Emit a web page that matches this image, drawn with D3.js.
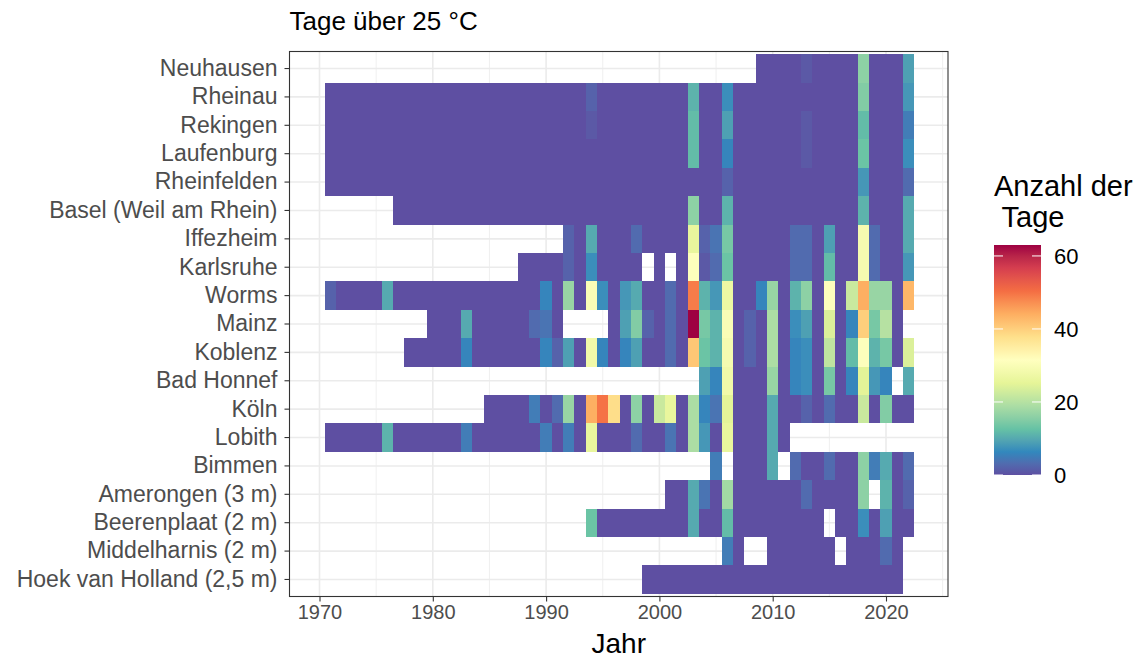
<!DOCTYPE html>
<html>
<head>
<meta charset="utf-8">
<script src="https://cdn.jsdelivr.net/npm/d3@7"></script>
<style>
  body { margin: 0; background: #fff; }
  text { font-family: "Liberation Sans", Arial, sans-serif; }
</style>
</head>
<body>
<script>
// station names, top to bottom
const stations = ["Neuhausen", "Rheinau", "Rekingen", "Laufenburg", "Rheinfelden",
  "Basel (Weil am Rhein)", "Iffezheim", "Karlsruhe", "Worms", "Mainz", "Koblenz",
  "Bad Honnef", "Köln", "Lobith", "Bimmen", "Amerongen (3 m)", "Beerenplaat (2 m)",
  "Middelharnis (2 m)", "Hoek van Holland (2,5 m)"];

// first year with data for each station (same order)
const firstYear = [2009, 1971, 1971, 1971, 1971, 1977, 1992, 1988, 1971, 1980, 1978,
  2004, 1985, 1971, 2005, 2001, 1994, 2006, 1999];

// days over 25 °C per year, starting at firstYear, null = no data
const neuhausen = [0, 0, 0, 0, 1, 0, 0, 0, 0, 16, 0, 0, 0, 9];
const rheinau = [0, 0, 0, 0, 0, 0, 0, 0, 0, 0, 0, 0, 0, 0, 0, 0, 0, 0, 0, 0, 0, 0, 0, 2,
  0, 0, 0, 0, 0, 0, 0, 0, 11, 0, 0, 7, 0, 0, 0, 0, 0, 0, 0, 0, 0, 0, 0, 15, 0, 0, 0, 8];
const rekingen = [0, 0, 0, 0, 0, 0, 0, 0, 0, 0, 0, 0, 0, 0, 0, 0, 0, 0, 0, 0, 0, 0, 0, 1,
  0, 0, 0, 0, 0, 0, 0, 0, 12, 0, 0, 9, 0, 0, 0, 0, 0, 0, 1, 0, 0, 0, 0, 12, 0, 0, 0, 5];
const laufenburg = [0, 0, 0, 0, 0, 0, 0, 0, 0, 0, 0, 0, 0, 0, 0, 0, 0, 0, 0, 0, 0, 0, 0, 0,
  0, 0, 0, 0, 0, 0, 0, 0, 12, 0, 0, 6, 0, 0, 0, 0, 0, 0, 1, 0, 0, 0, 0, 13, 0, 0, 0, 7];
const rheinfelden = [0, 0, 0, 0, 0, 0, 0, 0, 0, 0, 0, 0, 0, 0, 0, 0, 0, 0, 0, 0, 0, 0, 0, 0,
  0, 0, 0, 0, 0, 0, 0, 0, 0, 0, 0, 2, 0, 0, 0, 0, 0, 0, 0, 0, 0, 0, 0, 8, 0, 0, 0, 3];
const basel = [0, 0, 0, 0, 0, 0, 0, 0, 0, 0, 0, 0, 0, 0, 0, 0, 0, 0,
  0, 0, 0, 0, 0, 0, 0, 0, 16, 0, 0, 11, 0, 0, 0, 0, 0, 0, 0, 0, 0, 0, 0, 11, 0, 0, 0, 10];
const iffezheim = [2, 0, 10, 0, 0, 0, 3, 0, 0, 0, 0, 26, 2, 4, 14, 0, 0, 0, 0, 0,
  3, 3, 0, 9, 0, 0, 29, 3, 0, 0, 10];
const karlsruhe = [0, 0, 0, 0, 2, 0, 7, 0, 0, 0, 0, null, 0, null, 0, 31, 1, 3, 13, 0, 0, 0, 0, 0,
  3, 3, 0, 12, 0, 0, 29, 3, 0, 0, 8];
const worms = [2, 0, 0, 0, 0, 10, 0, 0, 0, 0, 0, 0, 0, 0, 0, 0, 0, 0, 0, 6,
  0, 17, 0, 30, 7, 0, 8, 10, 0, 0, 3, 0, 49, 11, 8, 27, 0, 0, 6, 17,
  0, 11, 16, 0, 31, 0, 22, 44, 17, 17, 0, 43];
const mainz = [0, 0, 0, 10, 0, 0, 0, 0, 0, 3, 4, 0, null, null, null, null, 0, 9, 15, 2,
  0, 3, 0, 63, 14, 11, 30, 0, 2, 0, 19, 0, 7, 9, 0, 24, 0, 6, 40, 14, 20, 0, null];
const koblenz = [0, 0, 0, 0, 0, 6, 0, 0, 0, 0, 0, 0, 6, 2, 9, 0, 28, 6, 0, 6, 9, 0, 0, 3, 0,
  41, 13, 11, 29, 0, 2, 0, 19, 0, 6, 7, 0, 21, 0, 12, 31, 11, 14, 0, 24];
const badHonnef = [9, 6, 28, 0, 0, 0, 17, 0, 6, 7, 0, 14, 0, 6, 25, 8, 6, null, 10];
const koeln = [0, 0, 0, 0, 5, 0, 3, 17, 0, 44, 50, 38, 0, 16, 0, 22, 26, 0, 19, 6, 4, 25,
  0, 0, 0, 10, 0, 0, 2, 0, 3, 0, 0, 22, 0, 15, 0, 0];
const lobith = [0, 0, 0, 0, 0, 11, 0, 0, 0, 0, 0, 0, 5, 0, 0, 0, 0, 0, 0, 5,
  0, 5, 0, 26, 0, 0, 0, 3, 0, 0, 4, 0, 19, 8, 0, 26, 0, 0, 0, 10, 0];
const bimmen = [5, null, 0, 0, 0, 10, null, 3, 0, 0, 3, 0, 0, 16, 5, 10, 0, 3];
const amerongen = [0, 0, 10, 4, 0, 18, 0, 0, 0, 0, 0, 0, 3, 0, 0, 0, 0, 16, null, 11, 0, 2];
const beerenplaat = [13, 0, 0, 0, 0, 0, 0, 0, 0, 10, 0, 0, 12, 0, 0, 0, 0, 0, 0, 0, 0,
  null, 0, 0, 7, 0, 9, 0, 0];
const middelharnis = [5, 0, null, null, 0, 0, 0, 0, 0, 0, null, 0, 0, 0, 3, 0];
const hoek = [0, 0, 0, 0, 0, 0, 0, 0, 0, 0, 0, 0, 0, 0, 0, 0, 0, 0, 0, 0, 0, 0, 0];

const series = [neuhausen, rheinau, rekingen, laufenburg, rheinfelden, basel, iffezheim,
  karlsruhe, worms, mainz, koblenz, badHonnef, koeln, lobith, bimmen, amerongen,
  beerenplaat, middelharnis, hoek];

const yearTicks = [1970, 1980, 1990, 2000, 2010, 2020];
const legendTicks = [0, 20, 40, 60];
const maxDays = 63;

// flatten into tiles
var tiles = [];
series.forEach((vals, i) => {
  vals.forEach((v, j) => {
    if (v !== null) tiles.push({station: stations[i], year: firstYear[i] + j, value: v});
  });
});

var W = 1140, H = 661;
var panel = {left: 289.5, right: 948, top: 51.5, bottom: 596.5};

var svg = d3.select("body").append("svg")
  .attr("width", W)
  .attr("height", H);

var x = d3.scaleLinear()
  .domain([1970, 2020])
  .range([319.5, 886]);

var y = d3.scaleBand()
  .domain(stations)
  .range([panel.top, panel.bottom])
  .paddingInner(0)
  .paddingOuter(0.1);

// reversed Spectral (11 classes) stretched over 0..max
var spectral = ["#9E0142", "#D53E4F", "#F46D43", "#FDAE61", "#FEE08B", "#FFFFBF",
  "#E6F598", "#ABDDA4", "#66C2A5", "#3288BD", "#5E4FA2"].reverse();
var color = d3.scaleLinear()
  .domain(spectral.map((d, i) => i * maxDays / (spectral.length - 1)))
  .range(spectral)
  .interpolate(d3.interpolateLab)
  .clamp(true);

// panel background + grid
svg.append("rect")
  .attr("x", panel.left).attr("y", panel.top)
  .attr("width", panel.right - panel.left).attr("height", panel.bottom - panel.top)
  .attr("fill", "#fff");

var minorYears = d3.range(1965, 2030, 10).filter(d => x(d) > panel.left && x(d) < panel.right);
svg.append("g").selectAll("line")
  .data(minorYears).enter().append("line")
  .attr("x1", d => x(d)).attr("x2", d => x(d))
  .attr("y1", panel.top).attr("y2", panel.bottom)
  .attr("stroke", "#EBEBEB").attr("stroke-width", 0.8);

svg.append("g").selectAll("line")
  .data(yearTicks).enter().append("line")
  .attr("x1", d => x(d)).attr("x2", d => x(d))
  .attr("y1", panel.top).attr("y2", panel.bottom)
  .attr("stroke", "#EBEBEB").attr("stroke-width", 1.6);

svg.append("g").selectAll("line")
  .data(stations).enter().append("line")
  .attr("x1", panel.left).attr("x2", panel.right)
  .attr("y1", d => y(d) + y.bandwidth() / 2).attr("y2", d => y(d) + y.bandwidth() / 2)
  .attr("stroke", "#EBEBEB").attr("stroke-width", 1.6);

// tiles, crisp so neighbours don't leave seams
svg.append("g")
  .attr("shape-rendering", "crispEdges")
  .selectAll("rect")
  .data(tiles).enter()
  .append("rect")
  .attr("x", d => x(d.year - 0.5))
  .attr("y", d => y(d.station))
  .attr("width", d => x(d.year + 0.5) - x(d.year - 0.5))
  .attr("height", y.bandwidth())
  .attr("fill", d => color(d.value));

// panel border
svg.append("rect")
  .attr("x", panel.left).attr("y", panel.top)
  .attr("width", panel.right - panel.left).attr("height", panel.bottom - panel.top)
  .attr("fill", "none").attr("stroke", "#333333").attr("stroke-width", 1.1);

// axes
var xAxis = d3.axisBottom(x).tickValues(yearTicks).tickFormat(d3.format("d")).tickSize(5).tickPadding(3);
var gx = svg.append("g")
  .attr("transform", "translate(0," + panel.bottom + ")")
  .call(xAxis);
gx.select(".domain").remove();
gx.selectAll("line").attr("stroke", "#333333").attr("stroke-width", 1.1);
gx.selectAll("text").attr("fill", "#4D4D4D").style("font-size", "20px")
  .style("font-family", "Liberation Sans, Arial, sans-serif");

var yAxis = d3.axisLeft(y).tickSize(5).tickPadding(7);
var gy = svg.append("g")
  .attr("transform", "translate(" + panel.left + ",0)")
  .call(yAxis);
gy.select(".domain").remove();
gy.selectAll("line").attr("stroke", "#333333").attr("stroke-width", 1.1);
gy.selectAll("text").attr("fill", "#4D4D4D").style("font-size", "23px")
  .style("font-family", "Liberation Sans, Arial, sans-serif");

// titles
svg.append("text")
  .attr("x", panel.left).attr("y", 29.5)
  .style("font-size", "26px")
  .text("Tage über 25 °C");

svg.append("text")
  .attr("x", (panel.left + panel.right) / 2).attr("y", 653)
  .attr("text-anchor", "middle")
  .style("font-size", "28px")
  .text("Jahr");

// legend
var lg = {x: 994, w: 47, top: 245, bottom: 475};
var ly = d3.scaleLinear().domain([0, maxDays]).range([lg.bottom, lg.top]);

svg.append("text")
  .attr("x", lg.x).attr("y", 196)
  .style("font-size", "29px")
  .text("Anzahl der");
svg.append("text")
  .attr("x", lg.x).attr("y", 227)
  .attr("xml:space", "preserve")
  .style("font-size", "29px")
  .style("white-space", "pre")
  .text(" Tage");

var grad = svg.append("defs").append("linearGradient")
  .attr("id", "legendGrad")
  .attr("x1", 0).attr("y1", 1).attr("x2", 0).attr("y2", 0);
grad.selectAll("stop")
  .data(d3.range(0, 1.0001, 0.05)).enter()
  .append("stop")
  .attr("offset", d => d)
  .attr("stop-color", d => color(d * maxDays));

svg.append("rect")
  .attr("x", lg.x).attr("y", lg.top)
  .attr("width", lg.w).attr("height", lg.bottom - lg.top)
  .attr("fill", "url(#legendGrad)");

var lt = svg.append("g");
lt.selectAll(".tl").data(legendTicks).enter().append("line")
  .attr("x1", lg.x).attr("x2", lg.x + 9)
  .attr("y1", d => ly(d)).attr("y2", d => ly(d))
  .attr("stroke", "#fff").attr("stroke-width", 1);
lt.selectAll(".tr").data(legendTicks).enter().append("line")
  .attr("x1", lg.x + lg.w - 9).attr("x2", lg.x + lg.w)
  .attr("y1", d => ly(d)).attr("y2", d => ly(d))
  .attr("stroke", "#fff").attr("stroke-width", 1);
lt.selectAll("text").data(legendTicks).enter().append("text")
  .attr("x", lg.x + lg.w + 13)
  .attr("y", d => ly(d))
  .attr("dy", "0.36em")
  .style("font-size", "22px")
  .attr("fill", "#000")
  .text(d => d);
</script>
</body>
</html>
